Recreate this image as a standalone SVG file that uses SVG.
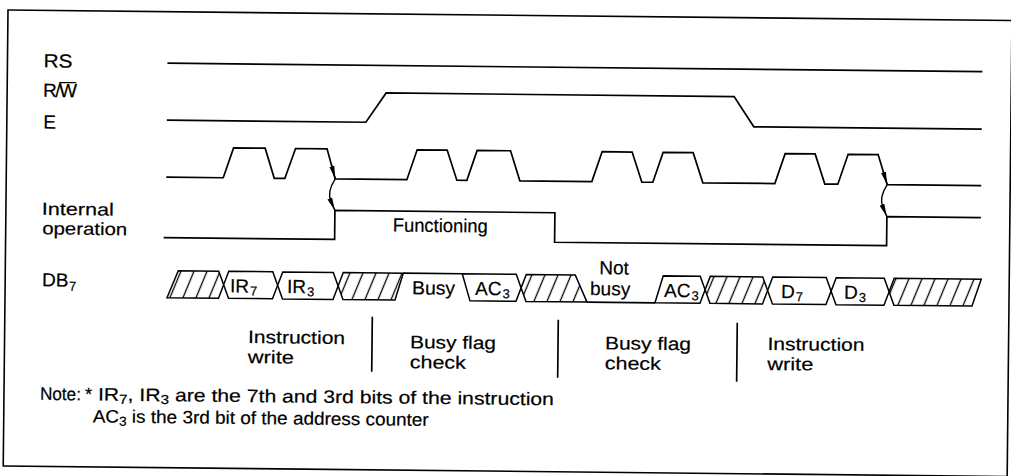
<svg xmlns="http://www.w3.org/2000/svg" width="1011" height="476" viewBox="0 0 1011 476">
<defs>
<style>
.sig{fill:none;stroke:#000;stroke-width:1.7;stroke-linejoin:miter}
.box{fill:#fff;stroke:#000;stroke-width:1.5;stroke-linejoin:miter}
.hat{fill:url(#hatch);stroke:#000;stroke-width:1.5;stroke-linejoin:miter}
.t{font-family:"Liberation Sans",Arial,Helvetica,sans-serif;font-size:19px;fill:#000;stroke:#000;stroke-width:0.2}
.p{font-size:18px}
.n{font-size:17.5px}
.sub{font-size:13px}
.arr{fill:none;stroke:#000;stroke-width:1.4}
</style>
<pattern id="hatch" patternUnits="userSpaceOnUse" width="13" height="27" patternTransform="skewX(-22)">
<line x1="6.5" y1="0" x2="6.5" y2="27" stroke="#000" stroke-width="1.4"/>
</pattern>
<marker id="ah" markerWidth="13" markerHeight="6" refX="13" refY="3" orient="auto" markerUnits="userSpaceOnUse">
<path d="M0,0.5 L13,3 L0,5.5 Z" fill="#000"/>
</marker>
</defs>
<rect width="1011" height="476" fill="#fff"/>
<g transform="rotate(0.6 8 10)">
<rect id="frame" x="8" y="10" width="1004" height="456" fill="none" stroke="#000" stroke-width="1.6"/>

<g id="labels" class="t">
<text x="44" y="67" textLength="29" lengthAdjust="spacingAndGlyphs">RS</text>
<text x="44" y="96.5">R<tspan dx="-1.5">/</tspan><tspan dx="-1.5">W</tspan></text>
<line x1="60" y1="82" x2="77" y2="82" stroke="#000" stroke-width="1.3"/>
<text x="44.5" y="128">E</text>
<text class="n" x="44" y="214.5" textLength="72" lengthAdjust="spacingAndGlyphs">Internal</text>
<text class="n" x="44.5" y="234" textLength="85" lengthAdjust="spacingAndGlyphs">operation</text>
<text x="45" y="286">DB<tspan class="sub" dx="0.5" dy="4">7</tspan></text>
</g>

<g id="sig-rs"><path class="sig" d="M168,61.5 H983"/></g>
<g id="sig-rw"><path class="sig" d="M168,118.5 H367 L387,89 H735 L755,119 H983"/></g>
<g id="sig-e"><path class="sig" d="M168,175.5 H225 L235,145.5 H266.6 L276,175.5 H286.6 L297,145.5 H328.5 L337,175.5 H408.6 L418.6,145.5 H448.6 L458.6,175.5 H468.6 L478.6,145.5 H512 L521.6,175.5 H593.6 L603.6,145.5 H633.6 L643.6,175.5 H654.6 L664.6,145.5 H694.6 L704.6,175.5 H776.6 L786.6,145.5 H816.6 L826.6,175.5 H839.6 L849.6,145.5 H879.6 L889,175.5 H983"/></g>
<g id="sig-internal">
<path class="sig" d="M166,236 H337 V207 H557 V236.5 H889 V207.5 H983"/>
<text class="t" x="395" y="227.5" textLength="95" lengthAdjust="spacingAndGlyphs">Functioning</text>
</g>

<g id="sig-db7">
<path class="hat" d="M170,296 L181,269 H221.5 L226.5,282.5 L221.5,296 Z"/>
<path class="box" d="M226.5,282.5 L231.5,269 H275.5 L280.5,282.5 L275.5,296 H231.5 Z"/>
<path class="box" d="M280.5,282.5 L285.5,269 H336 L341,282.5 L336,296 H285.5 Z"/>
<path class="hat" d="M341,282.5 L346,269 H406 L398,296 H346 Z"/>
<path class="sig" d="M406,269 H465"/>
<path class="box" d="M465,269 H519 L524,282.5 L519,296 H473 Z"/>
<path class="hat" d="M524,282.5 L529,269 H578 L590,296 H529 Z"/>
<path class="sig" d="M590,296 H658"/>
<path class="box" d="M658,296 L666,269 H703 L708,282.5 L703,296 Z"/>
<path class="hat" d="M708,282.5 L713,269 H765.5 L770.5,282.5 L765.5,296 H713 Z"/>
<path class="box" d="M770.5,282.5 L775.5,269 H829 L834,282.5 L829,296 H775.5 Z"/>
<path class="box" d="M834,282.5 L839,269 H887 L892,282.5 L887,296 H839 Z"/>
<path class="hat" d="M892,282.5 L897,269 H984 L975,296 H897 Z"/>
<g class="t">
<text x="233" y="290">IR<tspan class="sub" dx="1" dy="3">7</tspan></text>
<text x="290" y="290">IR<tspan class="sub" dx="1" dy="3">3</tspan></text>
<text x="415" y="290" textLength="43" lengthAdjust="spacingAndGlyphs">Busy</text>
<text x="478" y="290">AC<tspan class="sub" dx="1" dy="3">3</tspan></text>
<text x="602" y="268">Not</text>
<text x="593" y="289">busy</text>
<text x="667" y="290">AC<tspan class="sub" dx="1" dy="3">3</tspan></text>
<text x="784" y="290">D<tspan class="sub" dx="1" dy="3">7</tspan></text>
<text x="847" y="290">D<tspan class="sub" dx="1" dy="3">3</tspan></text>
</g>
</g>

<g id="phases">
<path class="sig" d="M375.5,313 V368 M561.5,314 V372 M740.5,315 V374" stroke-width="1.3"/>
<g class="t p">
<text x="251.5" y="340.5" textLength="97" lengthAdjust="spacingAndGlyphs">Instruction</text>
<text x="251.5" y="360.5" textLength="46" lengthAdjust="spacingAndGlyphs">write</text>
<text x="413.5" y="344" textLength="86" lengthAdjust="spacingAndGlyphs">Busy flag</text>
<text x="413.5" y="364" textLength="56" lengthAdjust="spacingAndGlyphs">check</text>
<text x="608.5" y="343" textLength="86" lengthAdjust="spacingAndGlyphs">Busy flag</text>
<text x="608.5" y="363" textLength="56" lengthAdjust="spacingAndGlyphs">check</text>
<text x="771" y="342" textLength="97" lengthAdjust="spacingAndGlyphs">Instruction</text>
<text x="771" y="362" textLength="46" lengthAdjust="spacingAndGlyphs">write</text>
</g>
</g>

<g id="note" class="t p">
<text x="44" y="399.5" textLength="41" lengthAdjust="spacingAndGlyphs">Note:</text>
<text x="89" y="399.5">*</text>
<text x="102" y="399.5" textLength="456" lengthAdjust="spacingAndGlyphs">IR<tspan class="sub" dy="3">7</tspan><tspan dy="-3">, IR</tspan><tspan class="sub" dy="3">3</tspan><tspan dy="-3"> are the 7th and 3rd bits of the instruction</tspan></text>
<text x="97" y="421.5" textLength="336" lengthAdjust="spacingAndGlyphs">AC<tspan class="sub" dy="3">3</tspan><tspan dy="-3"> is the 3rd bit of the address counter</tspan></text>
</g>

<g id="connectors">
<path class="arr" d="M333.2,162 L337,175.5" marker-end="url(#ah)"/>
<path class="arr" d="M337,175.5 C331,185 330,192 333,198 L337,207" marker-end="url(#ah)"/>
<path class="arr" d="M884.8,162.1 L889,175.5" marker-end="url(#ah)"/>
<path class="arr" d="M889,175.5 C883,185 882,192 885,198 L889,207.5" marker-end="url(#ah)"/>
</g>
</g>
</svg>
